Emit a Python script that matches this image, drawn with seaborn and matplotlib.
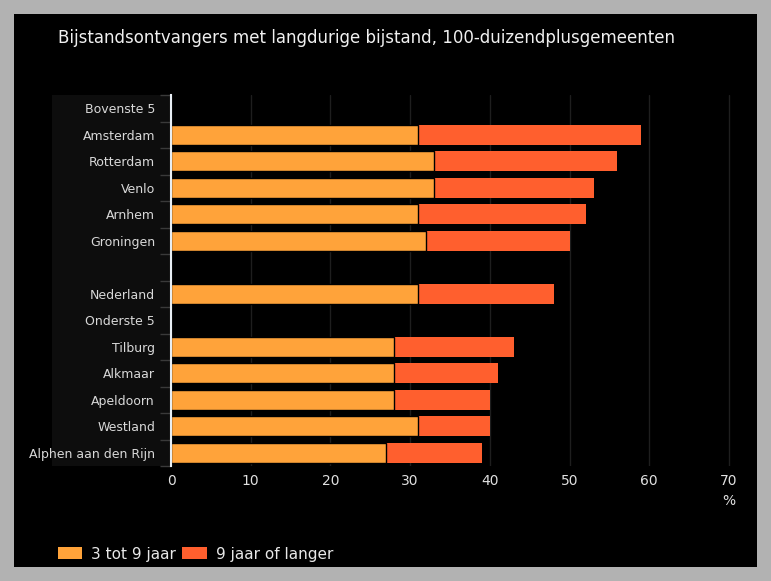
import numpy as np
import pandas as pd
import matplotlib
matplotlib.use("Agg")
import matplotlib.pyplot as plt
import matplotlib.patches as mpatches
import seaborn as sns

categories = ["Bovenste 5", "Amsterdam", "Rotterdam", "Venlo", "Arnhem", "Groningen", "",
              "Nederland", "Onderste 5", "Tilburg", "Alkmaar", "Apeldoorn", "Westland",
              "Alphen aan den Rijn"]
short_term = [np.nan, 31, 33, 33, 31, 32, np.nan, 31, np.nan, 28, 28, 28, 31, 27]   # 3 tot 9 jaar
long_term = [np.nan, 28, 23, 20, 21, 18, np.nan, 17, np.nan, 15, 13, 12, 9, 12]    # 9 jaar of langer
x_ticks = [0, 10, 20, 30, 40, 50, 60, 70]

title = "Bijstandsontvangers met langdurige bijstand, 100-duizendplusgemeenten"
series_names = ["3 tot 9 jaar", "9 jaar of langer"]
c_short = "#FFA33A"
c_long = "#FF5F2E"

df = pd.DataFrame({"cat": categories, "short": short_term, "long": long_term})
df["total"] = df["short"] + df["long"]

sns.set_theme(style="dark")
plt.rcParams['font.family'] = ['DejaVu Sans']

W, H = 771, 581
fig = plt.figure(figsize=(W / 100, H / 100), dpi=100)
fig.patch.set_facecolor("#b2b2b2")

# black panel
fig.patches.append(mpatches.Rectangle((14 / W, (H - 567) / H), (757 - 14) / W, (567 - 14) / H,
                                      transform=fig.transFigure, facecolor="black", edgecolor="none", zorder=-10))
# label panel
fig.patches.append(mpatches.Rectangle((52 / W, (H - 466) / H), (171 - 52) / W, (466 - 95) / H,
                                      transform=fig.transFigure, facecolor="#0d0d0d", edgecolor="none", zorder=-9))

ax = fig.add_axes([171 / W, (H - 466) / H, (737 - 171) / W, (466 - 95) / H])
ax.set_facecolor("black")

sns.barplot(data=df, x="total", y="cat", order=categories, color=c_long, orient="h",
            width=0.75, ax=ax, linewidth=0, errorbar=None, saturation=1)
sns.barplot(data=df, x="short", y="cat", order=categories, color=c_short, orient="h",
            width=0.75, ax=ax, linewidth=1, edgecolor="black", errorbar=None, saturation=1)

ax.set_xlim(0, 71)
ax.set_ylim(len(categories) - 0.5, -0.5)
ax.set_xticks(x_ticks)
ax.set_xticklabels([str(t) for t in x_ticks])
ax.set_xlabel("")
ax.set_ylabel("")
ax.grid(True, axis="x", color="#1e1e1e", linewidth=1)
ax.grid(False, axis="y")
ax.set_axisbelow(True)
for s in ["top", "right", "bottom"]:
    ax.spines[s].set_visible(False)
ax.spines["left"].set_visible(True)
ax.spines["left"].set_color("#e8eef4")
ax.spines["left"].set_linewidth(1.5)

ax.tick_params(axis="x", length=0, pad=6, labelcolor="#e0e0e0", labelsize=10)
ax.tick_params(axis="y", which="major", length=0, pad=11.5, labelcolor="#d8d8d8", labelsize=9)
ax.set_yticks(np.arange(-0.5, len(categories), 1.0), minor=True)
ax.tick_params(axis="y", which="minor", length=8, color="#3a3a3a", width=1, left=True)

fig.text(729 / W, (H - 501) / H, "%", color="#e0e0e0", fontsize=10, ha="center", va="center")
fig.text(58 / W, (H - 38) / H, title, color="#f0f0f0", fontsize=12, ha="left", va="center")

handles = [mpatches.Patch(facecolor=c_short, edgecolor="none"),
           mpatches.Patch(facecolor=c_long, edgecolor="none")]
leg = fig.legend(handles, series_names, loc="center left", bbox_to_anchor=(44 / W, (H - 554) / H),
                 ncol=2, frameon=False, fontsize=11, labelcolor="#e8e8e8",
                 handlelength=1.6, handleheight=0.8, handletextpad=0.6, columnspacing=0.4)

fig.savefig("out.png", dpi=100, facecolor=fig.get_facecolor())
